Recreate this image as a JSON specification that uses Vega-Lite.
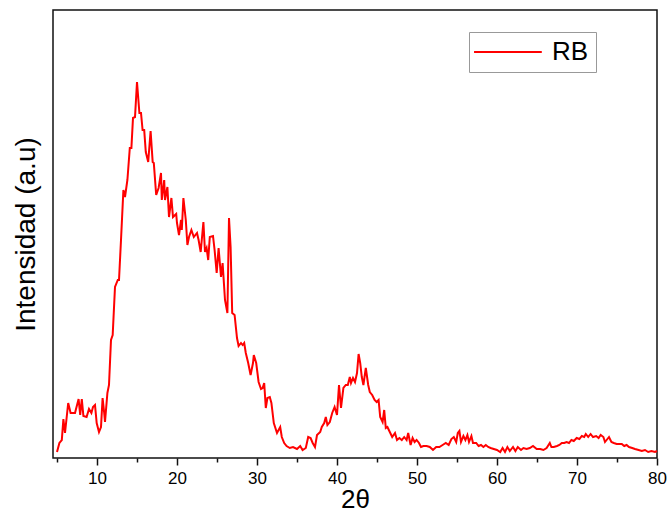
{
  "$schema": "https://vega.github.io/schema/vega-lite/v6.json",
  "autosize": "none",
  "width": 604,
  "height": 448,
  "padding": {"left": 53, "top": 10, "right": 10, "bottom": 56},
  "background": "white",
  "config": {
    "view": {"stroke": "#111", "strokeWidth": 1.5},
    "font": "Liberation Sans",
    "axis": {"grid": false, "domain": false}
  },
  "data": {"values": [
    {"x":5.0,"y":6},{"x":5.3,"y":15},{"x":5.6,"y":18},{"x":5.8,"y":39},{"x":6.0,"y":25},{"x":6.4,"y":55},{"x":6.7,"y":45},{"x":7.25,"y":45},{"x":7.7,"y":59},{"x":7.9,"y":43},
    {"x":8.1,"y":59},{"x":8.3,"y":42},{"x":8.7,"y":41},{"x":9.0,"y":49},{"x":9.3,"y":45},{"x":9.5,"y":51},{"x":9.75,"y":53},{"x":9.96,"y":35},{"x":10.25,"y":26},{"x":10.5,"y":31},
    {"x":10.7,"y":60},{"x":10.9,"y":45},{"x":11.0,"y":36},{"x":11.3,"y":65},{"x":11.5,"y":73},{"x":11.75,"y":118},{"x":11.96,"y":123},{"x":12.25,"y":171},{"x":12.6,"y":178},{"x":12.75,"y":178},
    {"x":13.0,"y":218},{"x":13.3,"y":268},{"x":13.5,"y":261},{"x":13.8,"y":278},{"x":14.1,"y":310},{"x":14.3,"y":310},{"x":14.5,"y":340},{"x":14.75,"y":341},{"x":15.0,"y":376},{"x":15.3,"y":345},
    {"x":15.5,"y":345},{"x":15.7,"y":328},{"x":15.9,"y":328},{"x":16.1,"y":306},{"x":16.4,"y":296},{"x":16.7,"y":327},{"x":16.96,"y":296},{"x":17.1,"y":295},{"x":17.4,"y":263},{"x":17.7,"y":270},
    {"x":18.0,"y":285},{"x":18.1,"y":258},{"x":18.4,"y":278},{"x":18.5,"y":258},{"x":18.8,"y":271},{"x":19.0,"y":241},{"x":19.3,"y":260},{"x":19.5,"y":241},{"x":19.9,"y":244},{"x":20.0,"y":235},
    {"x":20.25,"y":223},{"x":20.5,"y":238},{"x":20.6,"y":228},{"x":20.8,"y":260},{"x":21.1,"y":238},{"x":21.3,"y":213},{"x":21.5,"y":221},{"x":21.8,"y":228},{"x":22.1,"y":221},{"x":22.5,"y":225},
    {"x":22.7,"y":218},{"x":22.96,"y":206},{"x":23.3,"y":236},{"x":23.5,"y":206},{"x":23.7,"y":210},{"x":23.9,"y":198},{"x":24.1,"y":221},{"x":24.5,"y":222},{"x":24.7,"y":208},{"x":24.96,"y":185},
    {"x":25.2,"y":210},{"x":25.5,"y":181},{"x":25.7,"y":195},{"x":26.0,"y":158},{"x":26.3,"y":145},{"x":26.5,"y":240},{"x":26.7,"y":211},{"x":26.9,"y":145},{"x":27.2,"y":143},{"x":27.5,"y":120},
    {"x":27.7,"y":112},{"x":28.0,"y":115},{"x":28.2,"y":113},{"x":28.4,"y":115},{"x":28.6,"y":105},{"x":28.9,"y":95},{"x":29.2,"y":83},{"x":29.5,"y":95},{"x":29.6,"y":103},{"x":29.9,"y":95},
    {"x":30.2,"y":76},{"x":30.5,"y":69},{"x":30.7,"y":70},{"x":30.9,"y":75},{"x":31.1,"y":50},{"x":31.3,"y":60},{"x":31.6,"y":61},{"x":31.8,"y":55},{"x":32.1,"y":35},{"x":32.5,"y":25},
    {"x":32.9,"y":31},{"x":33.1,"y":21},{"x":33.4,"y":15},{"x":33.7,"y":12},{"x":34.1,"y":10},{"x":34.5,"y":11},{"x":35.0,"y":9},{"x":35.4,"y":12},{"x":35.7,"y":8},{"x":36.1,"y":10},
    {"x":36.4,"y":21},{"x":36.7,"y":20},{"x":36.96,"y":15},{"x":37.25,"y":11},{"x":37.5,"y":23},{"x":37.9,"y":26},{"x":38.1,"y":31},{"x":38.4,"y":35},{"x":38.6,"y":41},{"x":38.8,"y":33},
    {"x":39.1,"y":36},{"x":39.4,"y":45},{"x":39.7,"y":51},{"x":40.0,"y":43},{"x":40.25,"y":73},{"x":40.5,"y":50},{"x":40.8,"y":70},{"x":41.1,"y":73},{"x":41.35,"y":73},{"x":41.6,"y":81},
    {"x":41.75,"y":75},{"x":42.0,"y":80},{"x":42.25,"y":76},{"x":42.5,"y":85},{"x":42.7,"y":104},{"x":42.9,"y":95},{"x":43.1,"y":81},{"x":43.3,"y":73},{"x":43.6,"y":90},{"x":43.9,"y":73},
    {"x":44.1,"y":66},{"x":44.4,"y":63},{"x":44.7,"y":58},{"x":44.96,"y":56},{"x":45.2,"y":58},{"x":45.4,"y":41},{"x":45.7,"y":36},{"x":45.9,"y":48},{"x":46.1,"y":30},{"x":46.3,"y":31},
    {"x":46.6,"y":26},{"x":46.9,"y":21},{"x":47.25,"y":25},{"x":47.5,"y":18},{"x":47.8,"y":20},{"x":48.1,"y":18},{"x":48.4,"y":21},{"x":48.7,"y":18},{"x":48.9,"y":25},{"x":49.2,"y":13},
    {"x":49.45,"y":20},{"x":49.7,"y":16},{"x":49.95,"y":18},{"x":50.25,"y":15},{"x":50.5,"y":11},{"x":50.8,"y":12},{"x":51.2,"y":12},{"x":51.6,"y":11},{"x":52.0,"y":8},{"x":52.4,"y":11},
    {"x":52.8,"y":11},{"x":53.2,"y":13},{"x":53.6,"y":15},{"x":53.96,"y":13},{"x":54.3,"y":19},{"x":54.6,"y":21},{"x":54.9,"y":16},{"x":55.1,"y":25},{"x":55.3,"y":27},{"x":55.5,"y":16},
    {"x":55.8,"y":22},{"x":56.05,"y":18},{"x":56.3,"y":23},{"x":56.5,"y":16},{"x":56.8,"y":22},{"x":57.0,"y":15},{"x":57.4,"y":15},{"x":57.7,"y":12},{"x":58.0,"y":13},{"x":58.3,"y":11},
    {"x":58.6,"y":13},{"x":58.9,"y":11},{"x":59.2,"y":10},{"x":59.6,"y":9},{"x":60.0,"y":8},{"x":60.4,"y":6},{"x":60.7,"y":10},{"x":61.0,"y":6},{"x":61.3,"y":11},{"x":61.6,"y":7},
    {"x":62.0,"y":11},{"x":62.3,"y":7},{"x":62.6,"y":11},{"x":63.0,"y":8},{"x":63.3,"y":10},{"x":63.7,"y":9},{"x":64.1,"y":10},{"x":64.5,"y":12},{"x":64.96,"y":9},{"x":65.4,"y":9},
    {"x":65.8,"y":8},{"x":66.2,"y":10},{"x":66.6,"y":15},{"x":66.8,"y":11},{"x":67.1,"y":11},{"x":67.5,"y":12},{"x":67.8,"y":13},{"x":68.1,"y":15},{"x":68.4,"y":15},{"x":68.7,"y":16},
    {"x":69.0,"y":15},{"x":69.3,"y":18},{"x":69.6,"y":17},{"x":69.96,"y":20},{"x":70.3,"y":19},{"x":70.6,"y":22},{"x":70.9,"y":21},{"x":71.1,"y":24},{"x":71.4,"y":21},{"x":71.7,"y":24},
    {"x":72.0,"y":21},{"x":72.4,"y":22},{"x":72.7,"y":20},{"x":72.96,"y":23},{"x":73.3,"y":21},{"x":73.5,"y":16},{"x":73.8,"y":19},{"x":74.0,"y":21},{"x":74.3,"y":16},{"x":74.6,"y":15},
    {"x":74.96,"y":14},{"x":75.3,"y":14},{"x":75.6,"y":14},{"x":75.9,"y":12},{"x":76.2,"y":13},{"x":76.5,"y":11},{"x":76.9,"y":10},{"x":77.25,"y":9},{"x":77.7,"y":8},{"x":78.1,"y":7},
    {"x":78.5,"y":8},{"x":78.9,"y":6},{"x":79.3,"y":7},{"x":79.75,"y":6},{"x":80.0,"y":7}
  ]},
  "mark": {"type": "line", "strokeWidth": 2, "interpolate": "linear"},
  "encoding": {
    "x": {
      "field": "x", "type": "quantitative",
      "scale": {"domain": [4.5, 80], "nice": false, "zero": false},
      "axis": {
        "title": "2θ",
        "titleFont": "Liberation Sans", "titleFontSize": 26, "titleFontWeight": "normal", "titleColor": "#000", "titlePadding": 0,
        "values": [5, 10, 15, 20, 25, 30, 35, 40, 45, 50, 55, 60, 65, 70, 75, 80],
        "labelExpr": "datum.value % 10 == 0 ? datum.label : ''",
        "labelFontSize": 17, "labelColor": "#000", "labelPadding": 5, "labelFlush": false, "labelOverlap": false,
        "tickColor": "#111", "tickWidth": 1.5,
        "tickSize": {"condition": {"test": "datum.value % 10 == 0", "value": 7}, "value": 4}
      }
    },
    "y": {
      "field": "y", "type": "quantitative",
      "scale": {"domain": [0, 448], "nice": false},
      "axis": {
        "title": "Intensidad (a.u)", "titleFont": "Liberation Sans", "titleFontSize": 28, "titleFontWeight": "normal", "titleColor": "#000",
        "titlePadding": 13, "labels": false, "ticks": false, "domain": false
      }
    },
    "color": {
      "datum": "RB",
      "scale": {"range": ["#ff0000"]},
      "legend": {
        "title": null, "orient": "none", "legendX": 416, "legendY": 22,
        "symbolType": "M-1.36,0H4.8", "symbolSize": 484, "symbolStrokeWidth": 2,
        "labelFontSize": 26, "labelFont": "Liberation Sans", "labelColor": "#000", "labelOffset": 50,
        "strokeColor": "#999", "fillColor": "white", "padding": 7
      }
    }
  }
}
